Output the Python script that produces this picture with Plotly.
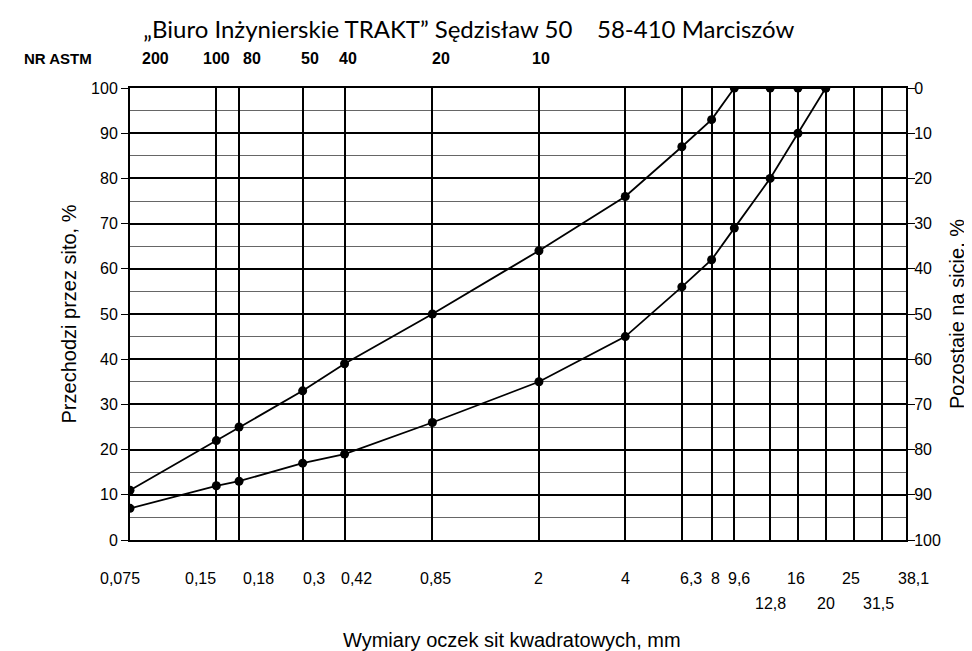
import math
import plotly.graph_objects as go

# ---- data ----
sieve_sizes = [0.075, 0.15, 0.18, 0.3, 0.42, 0.85, 2, 4, 6.3, 8, 9.6, 12.8, 16, 20, 25, 31.5, 38.1]
size_labels = ["0,075", "0,15", "0,18", "0,3", "0,42", "0,85", "2", "4", "6,3", "8", "9,6",
               "12,8", "16", "20", "25", "31,5", "38,1"]
second_row = ["12,8", "20", "31,5"]

astm_sizes = [0.075, 0.15, 0.18, 0.3, 0.42, 0.85, 2]
astm_numbers = ["200", "100", "80", "50", "40", "20", "10"]

curve_sizes = [0.075, 0.15, 0.18, 0.3, 0.42, 0.85, 2, 4, 6.3, 8, 9.6, 12.8, 16, 20]
upper_passing = [11, 22, 25, 33, 39, 50, 64, 76, 87, 93, 100, 100, 100, 100]
lower_passing = [7, 12, 13, 17, 19, 26, 35, 45, 56, 62, 69, 80, 90, 100]

title_text = "„Biuro Inżynierskie TRAKT” Sędzisław 50\u00a0\u00a0\u00a0\u00a058-410 Marciszów"

# ---- style ----
FONT = "Liberation Sans, Arial, sans-serif"
# pixel nudges of labels, as laid out on the original sheet
label_nudge = {"0,075": -10, "0,15": -16, "0,18": 19, "0,3": 11, "0,42": 12, "0,85": 3,
               "6,3": 9, "8": 4, "9,6": 5, "16": -2, "25": -3, "31,5": -4, "38,1": 7}
astm_nudge = {"200": 25, "80": 13, "50": 7, "40": 3, "20": 9, "10": 2}

fig = go.Figure()
for ys in (upper_passing, lower_passing):
    fig.add_trace(go.Scatter(
        x=curve_sizes, y=ys, mode="lines+markers",
        line=dict(color="black", width=1.8),
        marker=dict(color="black", size=9),
        showlegend=False, hoverinfo="x+y",
    ))
# retained (%) on the right axis = 100 - passing (invisible, binds the right axis)
fig.add_trace(go.Scatter(
    x=curve_sizes, y=[100 - v for v in lower_passing], yaxis="y2",
    mode="markers", marker=dict(opacity=0), showlegend=False, hoverinfo="skip",
))

fig.update_layout(
    width=972, height=651,
    margin=dict(l=122, r=74, t=80, b=119),
    paper_bgcolor="white", plot_bgcolor="white",
    font=dict(family=FONT, color="black", size=16),
    title=dict(text=title_text, x=0.474, xref="container", xanchor="center",
               y=1 - 22 / 651, yref="container", yanchor="middle",
               font=dict(family="Lato, Open Sans, sans-serif", size=24, color="black")),
    xaxis=dict(
        type="log", range=[math.log10(sieve_sizes[0]), math.log10(sieve_sizes[-1])],
        tickmode="array", tickvals=sieve_sizes, showticklabels=False,
        showgrid=True, gridcolor="black", gridwidth=1.5,
        showline=True, linecolor="black", linewidth=2, mirror=True,
        ticks="", zeroline=False,
    ),
    yaxis=dict(
        range=[0, 100], tickmode="linear", tick0=0, dtick=10,
        showgrid=True, gridcolor="black", gridwidth=1.5,
        minor=dict(tick0=0, dtick=5, showgrid=True, gridcolor="#666", gridwidth=1, ticks=""),
        showline=True, linecolor="black", linewidth=2,
        ticks="outside", ticklen=7, tickcolor="black", tickwidth=1,
        tickfont=dict(size=16, family=FONT),
        title=dict(text="Przechodzi przez sito, %", standoff=9,
                   font=dict(size=20, family=FONT)),
        zeroline=False,
    ),
    yaxis2=dict(
        overlaying="y", side="right", range=[100, 0],
        tickmode="linear", tick0=0, dtick=10, showgrid=False,
        showline=True, linecolor="black", linewidth=2,
        ticks="outside", ticklen=7, tickcolor="black", tickwidth=1,
        ticklabelstandoff=-4,
        tickfont=dict(size=16, family=FONT),
        title=dict(text="Pozostaje na sicie, %", standoff=10,
                   font=dict(size=20, family=FONT)),
        zeroline=False,
    ),
)

annotations = []
# sieve sizes under the axis (two rows)
for s, t in zip(sieve_sizes, size_labels):
    annotations.append(dict(text=t, xref="x", yref="paper", x=math.log10(s), y=0,
                            xshift=label_nudge.get(t, 0),
                            yshift=-63 if t in second_row else -38,
                            xanchor="center", yanchor="middle", showarrow=False,
                            font=dict(size=16, family=FONT)))
# x axis title
annotations.append(dict(text="Wymiary oczek sit kwadratowych, mm", xref="paper", yref="paper",
                        x=0.492, y=0, yshift=-100, xanchor="center", yanchor="middle",
                        showarrow=False, font=dict(size=20, family=FONT)))
# ASTM sieve numbers along the top
annotations.append(dict(text="<b>NR ASTM</b>", xref="paper", yref="paper", x=-0.093, y=1,
                        yshift=30, xanchor="center", yanchor="middle", showarrow=False,
                        font=dict(size=15, family=FONT)))
for s, n in zip(astm_sizes, astm_numbers):
    annotations.append(dict(text="<b>" + n + "</b>", xref="x", yref="paper",
                            x=math.log10(s), y=1, yshift=30, xshift=astm_nudge.get(n, 0),
                            xanchor="center", yanchor="middle", showarrow=False,
                            font=dict(size=16, family=FONT)))
fig.update_layout(annotations=annotations)

fig.write_html("out.html")
